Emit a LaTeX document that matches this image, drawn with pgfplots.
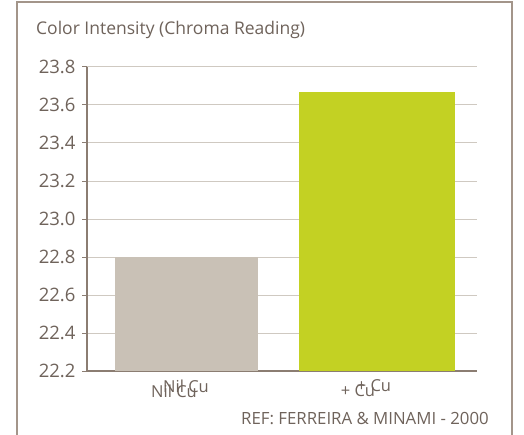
\documentclass[border=0pt]{standalone}
\usepackage{pgfplots}
\pgfplotsset{compat=1.18}
\usepackage{fontspec}
\setmainfont{Open Sans}
\definecolor{framec}{HTML}{A3958A}
\definecolor{txt}{HTML}{6F635B}
\definecolor{axc}{HTML}{8B7D72}
\definecolor{gridc}{HTML}{CFC9C1}
\definecolor{barA}{HTML}{C9C1B6}
\definecolor{barB}{HTML}{C3D123}
\newcommand{\dbl}[2]{\rlap{#1}\hspace*{#2}\raisebox{5pt}{#1}}
\begin{document}
\begin{tikzpicture}[x=1pt,y=1pt]
\useasboundingbox (0,0) rectangle (524,434);
\fill[white] (0,0) rectangle (524,434);
\draw[framec, line width=2.2pt] (17,-5) -- (17,432) -- (512,432) -- (512,-5);
\node[anchor=west, text=txt, font=\fontsize{17.5}{17.5}\selectfont, inner sep=0pt] at (36,404) {Color Intensity (Chroma Reading)};
\node[anchor=east, text=txt, font=\fontsize{16.8}{16.8}\selectfont, inner sep=0pt] at (489,15) {REF: FERREIRA \& MINAMI - 2000};
\begin{axis}[
  at={(87pt,63pt)}, anchor=south west,
  scale only axis, width=390pt, height=304pt,
  xmin=87, xmax=477, ymin=22.2, ymax=23.8,
  axis x line=bottom, axis y line=left,
  axis line style={-, axc, line width=1.2pt},
  ytick={22.2,22.4,22.6,22.8,23.0,23.2,23.4,23.6,23.8},
  yticklabel style={/pgf/number format/fixed, /pgf/number format/precision=1, /pgf/number format/fixed zerofill, /pgf/number format/assume math mode=true, text=txt, font=\fontsize{18.5}{18.5}\selectfont, xshift=-3pt},
  tick align=outside,
  major tick length=5pt,
  ytick style={axc, line width=1pt},
  xtick={180,366},
  xticklabels={{\dbl{Nil Cu}{12pt}},{\dbl{+ Cu}{16pt}}},
  xticklabel style={text=txt, font=\fontsize{16.5}{16.5}\selectfont},
  major x tick style={draw=none},
  ymajorgrids, grid style={gridc, line width=1pt},
  clip=true,
]
\addplot[ybar, bar shift=0pt, bar width=143, fill=barA, draw=none] coordinates {(186.5,22.8)};
\addplot[ybar, bar shift=0pt, bar width=156, fill=barB, draw=none] coordinates {(377,23.67)};
\end{axis}
\end{tikzpicture}
\end{document}
